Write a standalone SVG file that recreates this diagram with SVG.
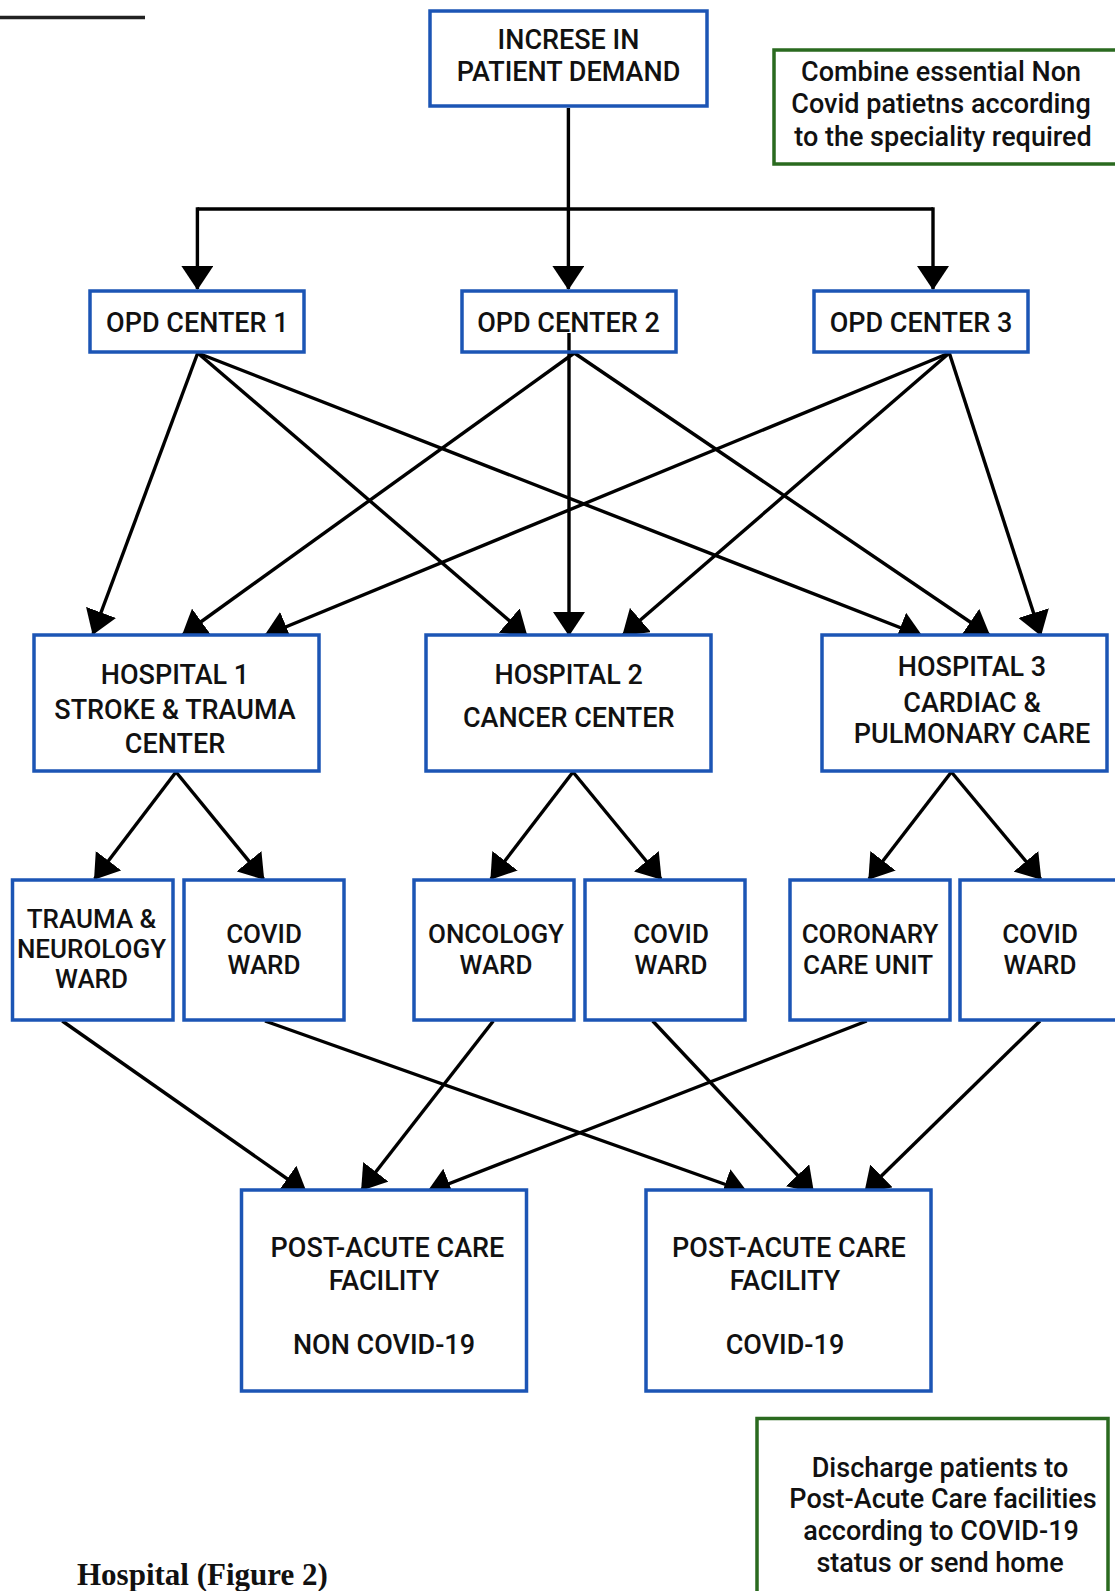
<svg xmlns="http://www.w3.org/2000/svg" width="1115" height="1591" viewBox="0 0 1115 1591">
<style>
.box{fill:#fff;stroke:#1c55b5;stroke-width:3.5}
.note{fill:#fff;stroke:#2a6a1f;stroke-width:3.5}
.t{font-family:Roboto,"Liberation Sans",sans-serif;font-weight:500;font-size:27px;fill:#111;text-anchor:middle}
.w{font-size:26px}
.c{fill:none;stroke:#000;stroke-width:3.4}
.cap{font-family:"Liberation Serif",serif;font-weight:bold;font-size:31px;fill:#111}
</style>
<defs>
<marker id="ah" viewBox="0 0 24 32" refX="23" refY="16" markerWidth="24" markerHeight="32" markerUnits="userSpaceOnUse" orient="auto">
<path d="M0,0 L24,16 L0,32 Z" fill="#000"/>
</marker>
</defs>
<rect width="1115" height="1591" fill="#fff"/>
<line x1="0" y1="17.5" x2="145" y2="17.5" stroke="#222" stroke-width="3.4"/>

<g id="connectors">
<path class="c" d="M568.4,108 V209"/>
<path class="c" d="M197.4,209 H933" />
<path class="c" d="M197.4,207.3 V289" marker-end="url(#ah)"/>
<path class="c" d="M568.4,209 V289" marker-end="url(#ah)"/>
<path class="c" d="M933,207.3 V289" marker-end="url(#ah)"/>

<path class="c" d="M197.7,353 L93,634" marker-end="url(#ah)"/>
<path class="c" d="M197.7,353 L526.7,635.5" marker-end="url(#ah)"/>
<path class="c" d="M197.7,353 L921.7,636" marker-end="url(#ah)"/>
<path class="c" d="M574.3,353 L182.7,635" marker-end="url(#ah)"/>
<path class="c" d="M569,333 L569,635" marker-end="url(#ah)"/>
<path class="c" d="M574.3,353 L989.3,635" marker-end="url(#ah)"/>
<path class="c" d="M949.3,353 L265,635.5" marker-end="url(#ah)"/>
<path class="c" d="M949.3,353 L623,635" marker-end="url(#ah)"/>
<path class="c" d="M949.3,353 L1040.7,635" marker-end="url(#ah)"/>

<path class="c" d="M176,772 L94.6,879" marker-end="url(#ah)"/>
<path class="c" d="M176,772 L263.6,879" marker-end="url(#ah)"/>
<path class="c" d="M573,772 L491,879" marker-end="url(#ah)"/>
<path class="c" d="M573,772 L661,879" marker-end="url(#ah)"/>
<path class="c" d="M951.4,772 L869,879" marker-end="url(#ah)"/>
<path class="c" d="M951.4,772 L1040.7,879" marker-end="url(#ah)"/>

<path class="c" d="M62.3,1021 L306,1192" marker-end="url(#ah)"/>
<path class="c" d="M265,1021 L746.7,1192" marker-end="url(#ah)"/>
<path class="c" d="M493.3,1021 L361.7,1190" marker-end="url(#ah)"/>
<path class="c" d="M866.7,1021 L427.7,1192" marker-end="url(#ah)"/>
<path class="c" d="M652.7,1021 L813.3,1192" marker-end="url(#ah)"/>
<path class="c" d="M1040,1021 L865,1192" marker-end="url(#ah)"/>
</g>

<g id="demand">
<rect class="box" x="430" y="11" width="277" height="95"/>
<text class="t" x="568.5" y="49">INCRESE IN</text>
<text class="t" x="568.5" y="81">PATIENT DEMAND</text>
</g>

<g id="note-combine">
<rect class="note" x="774" y="50" width="360" height="114"/>
<text class="t" x="941" y="81">Combine essential Non</text>
<text class="t" x="941" y="113">Covid patietns according</text>
<text class="t" x="943" y="146">to the speciality required</text>
</g>

<g id="opd1">
<rect class="box" x="90" y="291" width="214" height="61" style="fill:none"/>
<text class="t" x="197.4" y="332">OPD CENTER 1</text>
</g>
<g id="opd2">
<rect class="box" x="462" y="291" width="214" height="61" style="fill:none"/>
<text class="t" x="568.5" y="332">OPD CENTER 2</text>
</g>
<g id="opd3">
<rect class="box" x="814" y="291" width="214" height="61" style="fill:none"/>
<text class="t" x="921" y="332">OPD CENTER 3</text>
</g>

<g id="hospital1">
<rect class="box" x="34" y="635" width="285" height="136"/>
<text class="t" x="175" y="684">HOSPITAL 1</text>
<text class="t" x="175" y="719">STROKE &amp; TRAUMA</text>
<text class="t" x="175" y="753">CENTER</text>
</g>
<g id="hospital2">
<rect class="box" x="426" y="635" width="285" height="136"/>
<text class="t" x="568.7" y="684">HOSPITAL 2</text>
<text class="t" x="568.7" y="727">CANCER CENTER</text>
</g>
<g id="hospital3">
<rect class="box" x="822" y="635" width="285" height="136"/>
<text class="t" x="972" y="676">HOSPITAL 3</text>
<text class="t" x="972" y="712">CARDIAC &amp;</text>
<text class="t" x="972" y="743">PULMONARY CARE</text>
</g>

<g id="ward-trauma">
<rect class="box" x="12.5" y="880" width="160.5" height="140"/>
<text class="t w" x="91.5" y="928">TRAUMA &amp;</text>
<text class="t w" x="91.5" y="958">NEUROLOGY</text>
<text class="t w" x="91.5" y="988">WARD</text>
</g>
<g id="ward-covid1">
<rect class="box" x="184" y="880" width="160" height="140"/>
<text class="t w" x="264" y="943">COVID</text>
<text class="t w" x="264" y="974">WARD</text>
</g>
<g id="ward-oncology">
<rect class="box" x="414" y="880" width="160" height="140"/>
<text class="t w" x="496" y="943">ONCOLOGY</text>
<text class="t w" x="496" y="974">WARD</text>
</g>
<g id="ward-covid2">
<rect class="box" x="585" y="880" width="160" height="140"/>
<text class="t w" x="671" y="943">COVID</text>
<text class="t w" x="671" y="974">WARD</text>
</g>
<g id="ward-coronary">
<rect class="box" x="790" y="880" width="160" height="140"/>
<text class="t w" x="870" y="943">CORONARY</text>
<text class="t w" x="868" y="974">CARE UNIT</text>
</g>
<g id="ward-covid3">
<rect class="box" x="960" y="880" width="160" height="140"/>
<text class="t w" x="1040" y="943">COVID</text>
<text class="t w" x="1040" y="974">WARD</text>
</g>

<g id="post-noncovid">
<rect class="box" x="241.5" y="1190" width="285" height="201"/>
<text class="t" x="387.5" y="1257">POST-ACUTE CARE</text>
<text class="t" x="384" y="1290">FACILITY</text>
<text class="t" x="384" y="1354">NON COVID-19</text>
</g>
<g id="post-covid">
<rect class="box" x="646" y="1190" width="285" height="201"/>
<text class="t" x="789" y="1257">POST-ACUTE CARE</text>
<text class="t" x="785" y="1290">FACILITY</text>
<text class="t" x="785" y="1354">COVID-19</text>
</g>

<g id="note-discharge">
<rect class="note" x="757" y="1418.5" width="351" height="200"/>
<text class="t" x="940" y="1477">Discharge patients to</text>
<text class="t" x="943" y="1508">Post-Acute Care facilities</text>
<text class="t" x="941" y="1540">according to COVID-19</text>
<text class="t" x="940" y="1572">status or send home</text>
</g>

<text class="cap" x="77" y="1585">Hospital (Figure 2)</text>
</svg>
